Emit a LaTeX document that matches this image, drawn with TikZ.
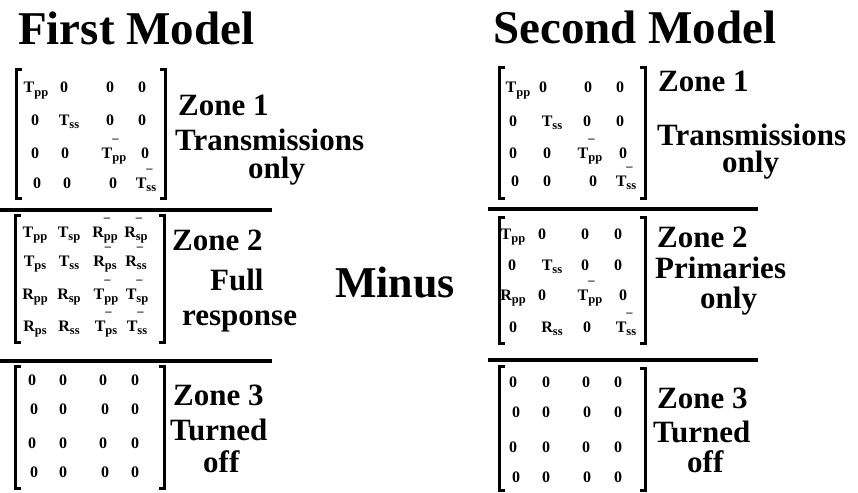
\documentclass[tikz,border=0pt]{standalone}
\usepackage{fontspec}
\setmainfont{Liberation Serif}
\newcommand\Sb[2]{#1\raisebox{-3.5pt}{\fontsize{12.5}{12.5}\selectfont #2}}
\newcommand\Sbm[2]{#1\rlap{\raisebox{15.5pt}{\fontsize{12.5}{12.5}\selectfont –}}\raisebox{-3.5pt}{\fontsize{12.5}{12.5}\selectfont #2}}
\newcommand\mrow[3]{\foreach \cx/\ct [count=\ci] in {#3} {\node[en] (#1-\ci) at (\cx,#2) {\ct};}}
\tikzset{
  ttl/.style={anchor=base west,inner sep=0pt,font=\fontsize{47}{47}\selectfont\bfseries},
  mns/.style={anchor=base west,inner sep=0pt,font=\fontsize{44}{44}\selectfont\bfseries},
  zl/.style={anchor=base west,inner sep=0pt,font=\fontsize{31}{31}\selectfont\bfseries},
  en/.style={anchor=base,inner sep=0pt,font=\fontsize{16}{16}\selectfont\bfseries},
  brk/.style={line width=3pt},
  sepline/.style={line width=4pt}
}
\begin{document}
\begin{tikzpicture}[x=1pt,y=-1pt]
\useasboundingbox (0,0) rectangle (858,492);
% titles
\node[ttl] (t1) at (18,45) {First Model};
\node[ttl] (t2) at (493,44) {Second Model};
\node[mns] (minus) at (335,297) {Minus};
% ---------- left zone 1
\mrow{La1}{93}{36/{\Sb{T}{pp}},64/0,110/0,142/0}
\mrow{La2}{125}{35/0,69/{\Sb{T}{ss}},110/0,142/0}
\mrow{La3}{158}{35/0,65/0,114/{\Sbm{T}{pp}},145/0}
\mrow{La4}{188}{37/0,67/0,113/0,146/{\Sbm{T}{ss}}}
\draw[brk] (22,70) -- (16.5,70) -- (16.5,198) -- (22,198);
\draw[brk] (160,70) -- (165.5,70) -- (165.5,198) -- (160,198);
\node[zl] (z1a) at (178,115) {Zone 1};
\node[zl] (z1b) at (175,150) {Transmissions};
\node[zl] (z1c) at (248,178) {only};
\draw[sepline] (0,209.5) -- (272,209.5);
% ---------- left zone 2
\mrow{Lb1}{237}{35/{\Sb{T}{pp}},69/{\Sb{T}{sp}},105/{\Sbm{R}{pp}},136/{\Sbm{R}{sp}}}
\mrow{Lb2}{266}{35/{\Sb{T}{ps}},69/{\Sb{T}{ss}},105/{\Sbm{R}{ps}},136/{\Sbm{R}{ss}}}
\mrow{Lb3}{299}{35/{\Sb{R}{pp}},69/{\Sb{R}{sp}},106/{\Sbm{T}{pp}},137/{\Sbm{T}{sp}}}
\mrow{Lb4}{331}{35/{\Sb{R}{ps}},69/{\Sb{R}{ss}},106/{\Sbm{T}{ps}},137/{\Sbm{T}{ss}}}
\draw[brk] (20.5,215) -- (15,215) -- (15,342) -- (20.5,342);
\draw[brk] (159,215) -- (164.5,215) -- (164.5,342) -- (159,342);
\node[zl] (z2a) at (172,250) {Zone 2};
\node[zl] (z2b) at (210,290) {Full};
\node[zl] (z2c) at (182,325) {response};
\draw[sepline] (0,361) -- (272,361);
% ---------- left zone 3
\mrow{Lc1}{385}{32/0,63/0,103/0,135/0}
\mrow{Lc2}{414}{34/0,63/0,105/0,135/0}
\mrow{Lc3}{448}{32/0,63/0,103/0,135/0}
\mrow{Lc4}{477}{34/0,63/0,105/0,135/0}
\draw[brk] (20.5,366) -- (15,366) -- (15,488) -- (20.5,488);
\draw[brk] (159,366) -- (164.5,366) -- (164.5,488) -- (159,488);
\node[zl] (z3a) at (173,405) {Zone 3};
\node[zl] (z3b) at (170,440) {Turned};
\node[zl] (z3c) at (203,472) {off};
% ---------- right zone 1
\mrow{Ra1}{93}{518/{\Sb{T}{pp}},543/0,588/0,620/0}
\mrow{Ra2}{126}{513/0,552/{\Sb{T}{ss}},587/0,620/0}
\mrow{Ra3}{158}{513/0,547/0,590/{\Sbm{T}{pp}},623/0}
\mrow{Ra4}{186}{515/0,547/0,593/0,626/{\Sbm{T}{ss}}}
\draw[brk] (505,68) -- (499.5,68) -- (499.5,198) -- (505,198);
\draw[brk] (640,68) -- (645.5,68) -- (645.5,198) -- (640,198);
\node[zl] (y1a) at (658,92) {Zone 1};
\node[zl] (y1b) at (657,145) {Transmissions};
\node[zl] (y1c) at (722,172) {only};
\draw[sepline] (488,209) -- (758,209);
% ---------- right zone 2
\mrow{Rb1}{239}{513/{\Sb{T}{pp}},542/0,585/0,618/0}
\mrow{Rb2}{270}{512/0,552/{\Sb{T}{ss}},585/0,618/0}
\mrow{Rb3}{300}{513/{\Sb{R}{pp}},542/0,590/{\Sbm{T}{pp}},623/0}
\mrow{Rb4}{332}{513/0,552/{\Sb{R}{ss}},587/0,626/{\Sbm{T}{ss}}}
\draw[brk] (505,217) -- (499.5,217) -- (499.5,343) -- (505,343);
\draw[brk] (640,217) -- (645.5,217) -- (645.5,343) -- (640,343);
\node[zl] (y2a) at (657,247) {Zone 2};
\node[zl] (y2b) at (655,278) {Primaries};
\node[zl] (y2c) at (700,308) {only};
\draw[sepline] (488,359.5) -- (758,359.5);
% ---------- right zone 3
\mrow{Rc1}{387}{513/0,546/0,586/0,618/0}
\mrow{Rc2}{417}{516/0,546/0,587/0,618/0}
\mrow{Rc3}{452}{513/0,546/0,586/0,618/0}
\mrow{Rc4}{482}{516/0,546/0,587/0,618/0}
\draw[brk] (505,366) -- (499.5,366) -- (499.5,490) -- (505,490);
\draw[brk] (640,368) -- (645.5,368) -- (645.5,490) -- (640,490);
\node[zl] (y3a) at (657,408) {Zone 3};
\node[zl] (y3b) at (653,442) {Turned};
\node[zl] (y3c) at (687,472) {off};
\end{tikzpicture}
\end{document}
